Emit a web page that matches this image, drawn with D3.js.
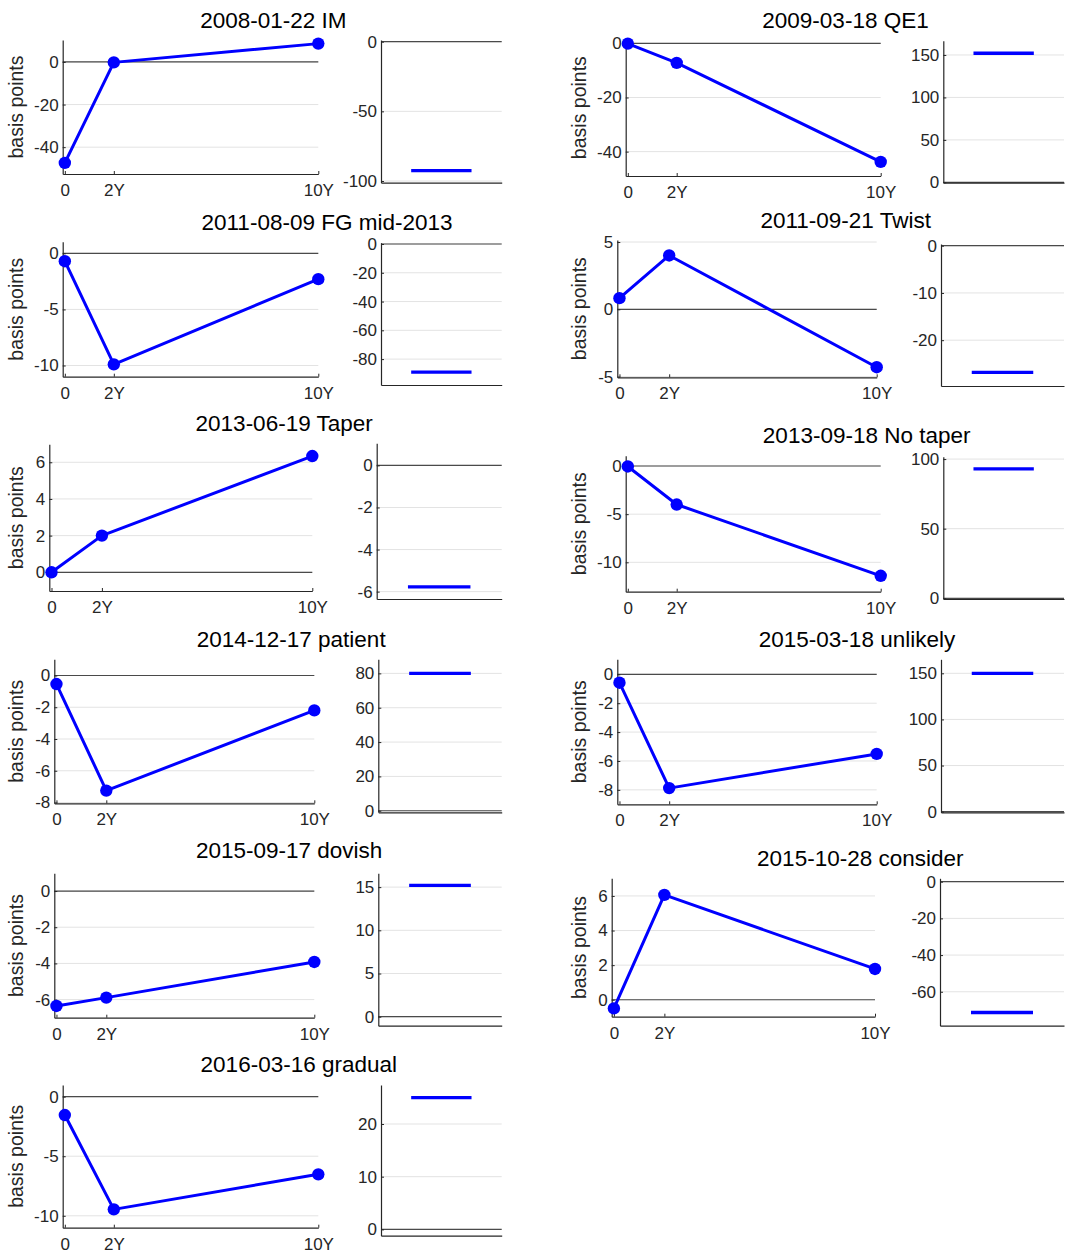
<!DOCTYPE html>
<html>
<head>
<meta charset="utf-8">
<script src="https://cdn.jsdelivr.net/npm/d3@7"></script>
<style>
  body { margin: 0; background: #fff; }
  svg { display: block; font-family: "Liberation Sans", Arial, Helvetica, sans-serif; }
</style>
</head>
<body>
<div id="chart"></div>
<script>
// event names, one per panel
var panelTitles = [
  "2008-01-22 IM", "2009-03-18 QE1",
  "2011-08-09 FG mid-2013", "2011-09-21 Twist",
  "2013-06-19 Taper", "2013-09-18 No taper",
  "2014-12-17 patient", "2015-03-18 unlikely",
  "2015-09-17 dovish", "2015-10-28 consider",
  "2016-03-16 gradual"
]

// yield change at 0 / 2Y / 10Y, basis points
var lineValues = [
  [-47.4, -0.2, 8.6],
  [-0.1, -7.2, -43.8],
  [-0.7, -9.9, -2.3],
  [0.83, 4.0, -4.3],
  [0.0, 2.0, 6.34],
  [-0.05, -4.0, -11.4],
  [-0.54, -7.25, -2.2],
  [-0.58, -7.88, -5.51],
  [-6.35, -5.89, -3.92],
  [-0.5, 6.06, 1.78],
  [-1.54, -9.46, -6.52]
]

// single value shown in the small right axes
var barValues = [-92.6, 152, -89, -26.8, -5.77, 93, 80, 150, 15.2, -71.3, 25]

var maturities = [1 / 12, 2, 10]
var maturityLabels = ["0", "2Y", "10Y"]

// y limits and ticks, as in the picture
var lineYLim = [
  [-52.6, 10.3], [-49, 1.5], [-11, 1.04], [-5.05, 5.15], [-1.02, 6.98], [-13.05, 1.07],
  [-8.05, 1.02], [-9, 1.04], [-7, 0.98], [-0.98, 7.02], [-11, 0.98]
]
var barYLim = [
  [-101.2, 1.2], [-0.4, 166.8], [-98, 0.9], [-29.7, 0.36], [-6.35, 1.05], [-0.5, 101.7],
  [-0.9, 88.2], [-0.7, 165.2], [-1.04, 16.6], [-78.5, 1.85], [-1.2, 27.4]
]
var lineTicks = [
  [-40, -20, 0], [-40, -20, 0], [-10, -5, 0], [-5, 0, 5], [0, 2, 4, 6], [-10, -5, 0],
  [-8, -6, -4, -2, 0], [-8, -6, -4, -2, 0], [-6, -4, -2, 0], [0, 2, 4, 6], [-10, -5, 0]
]
var barTicks = [
  [-100, -50, 0], [0, 50, 100, 150], [-80, -60, -40, -20, 0], [-20, -10, 0], [-6, -4, -2, 0],
  [0, 50, 100], [0, 20, 40, 60, 80], [0, 50, 100, 150], [0, 5, 10, 15], [-60, -40, -20, 0],
  [0, 10, 20]
]

// axes boxes [left, top, right, bottom] and title anchor
var layout = [
  { line: [62.7, 40, 318.3, 174],     bar: [381, 40, 501.7, 182.7],      title: [273.3, 28.3] },
  { line: [625.7, 39.3, 880.7, 176],  bar: [943.3, 40.7, 1064, 182.7],   title: [845.5, 28.3] },
  { line: [62.7, 241.7, 318.3, 376.7], bar: [381, 242.7, 501.7, 385],    title: [327, 230] },
  { line: [617.3, 240, 876.7, 377.3], bar: [941, 244, 1064, 386],        title: [845.7, 228.3] },
  { line: [49.3, 444.3, 312.3, 591],  bar: [376.7, 443.3, 501.7, 599],   title: [284.2, 430.7] },
  { line: [625.7, 455.7, 880.7, 591.7], bar: [943.3, 456.7, 1064, 599],  title: [866.7, 442.7] },
  { line: [54.3, 659.3, 314.3, 803.3], bar: [378.3, 659.3, 501.7, 812.3], title: [291.2, 646.7] },
  { line: [617.3, 659.3, 876.7, 804.3], bar: [941, 659.3, 1064, 812.3],  title: [857, 646.7] },
  { line: [54.3, 873.3, 314.3, 1017.7], bar: [378.3, 873.3, 501.7, 1025.7], title: [289.2, 858.3] },
  { line: [611.7, 878.3, 875, 1016.7], bar: [940, 878.3, 1064, 1025.7],  title: [860.3, 866] },
  { line: [62.7, 1085, 318.3, 1227.7], bar: [381, 1085, 501.7, 1235.7],  title: [298.8, 1071.7] }
]
var ylabelX = [22.7, 586]

var axisColor = "#262626"
  , gridColor = "#e3e3e3"
  , zeroColor = "#4a4a4a"
  , blue = "#0000ff"

var svg = d3.select("#chart")
  .append("svg")
    .attr("width", 1065)
    .attr("height", 1255)

function styleAxis(g) {
  g.attr("font-family", null).attr("font-size", null)
  g.select(".domain").attr("stroke", axisColor).attr("stroke-width", 1.2)
  g.selectAll(".tick line").attr("stroke", axisColor).attr("stroke-width", 1)
  g.selectAll(".tick text").attr("fill", axisColor).style("font-size", "17px")
}

function drawFrame(g, box, y, ticks, x, xTicks) {
  var w = box[2] - box[0], h = box[3] - box[1]

  // grid
  g.append("g").selectAll("line")
    .data(ticks)
    .join("line")
      .attr("x1", 0).attr("x2", w)
      .attr("y1", function(d) { return y(d) }).attr("y2", function(d) { return y(d) })
      .attr("stroke", gridColor).attr("stroke-width", 1)

  // zero line
  g.append("line")
    .attr("x1", 0).attr("x2", w)
    .attr("y1", y(0)).attr("y2", y(0))
    .attr("stroke", zeroColor).attr("stroke-width", 1.2)

  var ya = g.append("g")
    .call(d3.axisLeft(y).tickValues(ticks).tickFormat(String)
      .tickSizeInner(-3).tickSizeOuter(0).tickPadding(4))
  styleAxis(ya)

  var xa = d3.axisBottom(x).tickSizeOuter(0)
  if (xTicks) xa.tickValues(xTicks).tickFormat(function(d, i) { return maturityLabels[i] })
      .tickSizeInner(-3).tickPadding(10)
  else xa.tickValues([])
  var xg = g.append("g").attr("transform", "translate(0," + h + ")").call(xa)
  styleAxis(xg)
}

panelTitles.forEach(function(name, i) {
  var L = layout[i]
    , col = i % 2

  // line axes
  var lb = L.line
    , lg = svg.append("g").attr("transform", "translate(" + lb[0] + "," + lb[1] + ")")
    , x = d3.scaleLinear().domain([0, 10]).range([0, lb[2] - lb[0]])
    , y = d3.scaleLinear().domain(lineYLim[i]).range([lb[3] - lb[1], 0])

  drawFrame(lg, lb, y, lineTicks[i], x, maturities)

  var pts = maturities.map(function(m, k) { return [m, lineValues[i][k]] })

  lg.append("path")
    .datum(pts)
    .attr("fill", "none")
    .attr("stroke", blue)
    .attr("stroke-width", 3)
    .attr("stroke-linejoin", "round")
    .attr("d", d3.line().x(function(d) { return x(d[0]) }).y(function(d) { return y(d[1]) }))

  lg.append("g").selectAll("circle")
    .data(pts)
    .join("circle")
      .attr("cx", function(d) { return x(d[0]) })
      .attr("cy", function(d) { return y(d[1]) })
      .attr("r", 6.2)
      .attr("fill", blue)

  svg.append("text")
    .attr("transform", "translate(" + ylabelX[col] + "," + ((lb[1] + lb[3]) / 2) + ") rotate(-90)")
    .attr("text-anchor", "middle")
    .attr("fill", axisColor)
    .style("font-size", "19.5px")
    .text("basis points")

  // small value axes
  var bb = L.bar
    , bg = svg.append("g").attr("transform", "translate(" + bb[0] + "," + bb[1] + ")")
    , bx = d3.scaleLinear().domain([0, 1]).range([0, bb[2] - bb[0]])
    , by = d3.scaleLinear().domain(barYLim[i]).range([bb[3] - bb[1], 0])

  drawFrame(bg, bb, by, barTicks[i], bx, null)

  bg.append("line")
    .attr("x1", bx(0.25)).attr("x2", bx(0.75))
    .attr("y1", by(barValues[i])).attr("y2", by(barValues[i]))
    .attr("stroke", blue)
    .attr("stroke-width", 3.3)

  svg.append("text")
    .attr("x", L.title[0])
    .attr("y", L.title[1])
    .attr("text-anchor", "middle")
    .attr("fill", "#000")
    .style("font-size", "22.5px")
    .text(name)
})
</script>
</body>
</html>
